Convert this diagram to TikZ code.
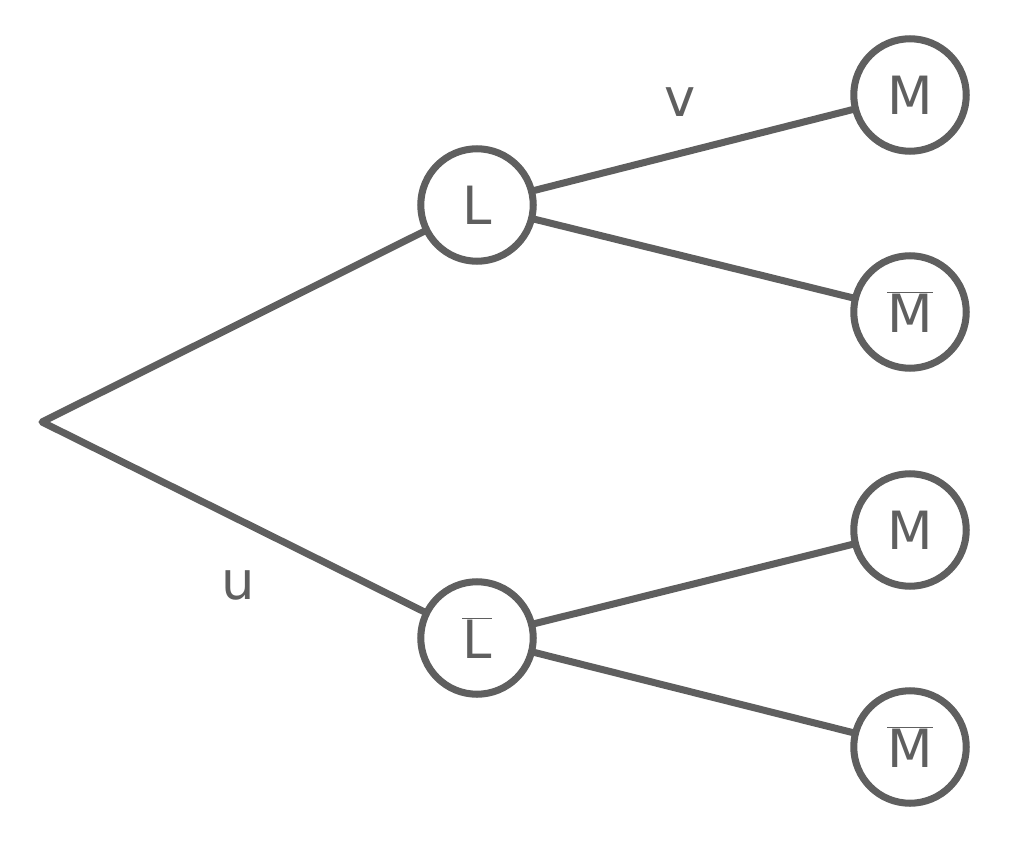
\documentclass[tikz,border=0pt]{standalone}
\usepackage{fontspec}
\setmainfont{DejaVu Sans}
\definecolor{g}{HTML}{5F5F5F}
\begin{document}
\begin{tikzpicture}[x=0.02cm,y=-0.02cm,
  st/.style={circle,draw=g,line width=4pt,minimum size=2.25cm,inner sep=0pt,text=g,font=\fontsize{30}{30}\selectfont},
  ln/.style={draw=g,line width=4pt,line cap=round,line join=round},
  lb/.style={text=g,font=\fontsize{30}{30}\selectfont}]
\useasboundingbox (0,0) rectangle (1024,841);
\coordinate (r) at (42,422);
\node[st] (L) at (477,205) {L};
\node[st] (Lb) at (477,638) {$\overline{\mbox{L}}$};
\node[st] (M1) at (910,95) {M};
\node[st] (M2) at (910,312) {$\overline{\mbox{M}}$};
\node[st] (M3) at (910,530) {M};
\node[st] (M4) at (910,747) {$\overline{\mbox{M}}$};
\draw[ln] (L) -- (r) -- (Lb);
\draw[ln] (L) -- (M1); \draw[ln] (L) -- (M2);
\draw[ln] (Lb) -- (M3); \draw[ln] (Lb) -- (M4);
\node[lb] (v) at (680,102) {v};
\node[lb] (u) at (238,585) {u};
\end{tikzpicture}
\end{document}
